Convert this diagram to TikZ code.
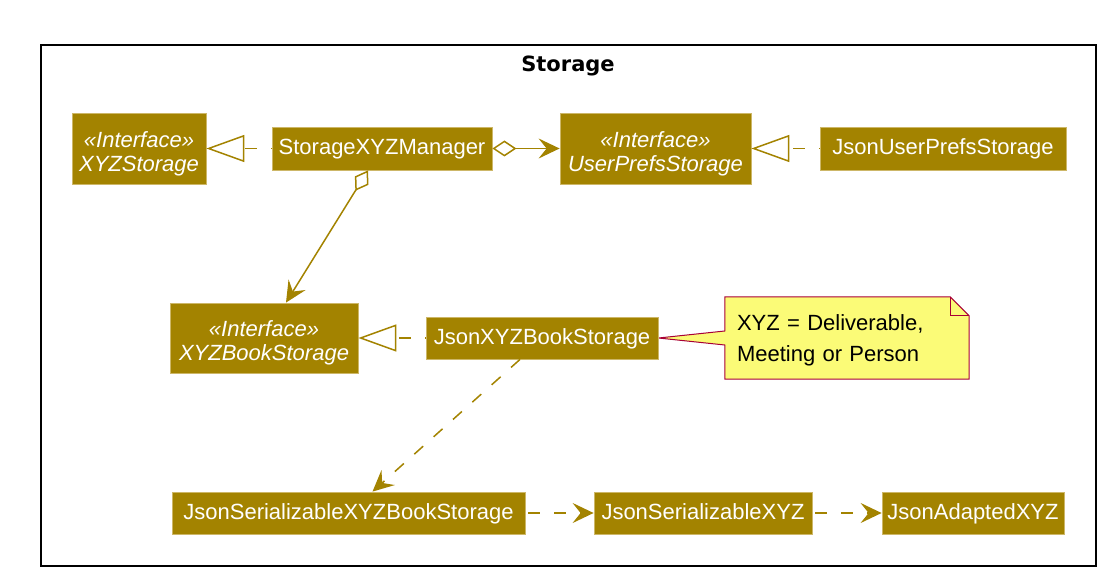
\documentclass[tikz,border=0pt]{standalone}
\usepackage{fontspec}
\setmainfont{Liberation Sans}
\newfontfamily\titlefont{DejaVu Sans}
\usepackage{tikz}
\usetikzlibrary{arrows.meta, backgrounds}

\definecolor{clsfill}{HTML}{A38300}
\definecolor{clsline}{HTML}{CDB768}
\definecolor{notefill}{HTML}{FBFB77}
\definecolor{noteline}{HTML}{A80036}

% stereotype line, with extra room above it
\newcommand{\ifacetag}{\rule{0pt}{26pt}«Interface»}

\begin{document}
\begin{tikzpicture}[x=1pt, y=-1pt,
  cls/.style={fill=clsfill, draw=clsline, line width=0.8pt, text=white, inner sep=0pt,
    minimum height=43pt, text height=16pt, text depth=4pt, font=\fontsize{22}{24}\selectfont},
  iface/.style={fill=clsfill, draw=clsline, line width=0.8pt, text=white, inner sep=0pt,
    minimum height=71pt, align=center, font=\fontsize{22}{24}\selectfont\itshape},
  realize/.style={draw=clsfill, line width=1.5pt, dash pattern=on 12pt off 14pt, dash phase=11pt,
    -{Triangle[open, length=38pt, width=27pt]}},
  depend/.style={draw=clsfill, line width=1.5pt, dash pattern=on 12pt off 14pt,
    -{Stealth[length=21pt, width=20pt, inset=8pt]}},
  aggr/.style={draw=clsfill, line width=1.5pt,
    {Diamond[open, length=24pt, width=16pt]}-{Stealth[length=21pt, width=20pt, inset=8pt]}}
]
\useasboundingbox (0,0) rectangle (1115,585);

% Package frame
\draw[line width=2pt] (41,45) rectangle (1096,566);
\node[font=\fontsize{21}{25}\selectfont\titlefont\bfseries] (title) at (568,66) {Storage};

% Top row
\node[iface, minimum width=134pt] (xyzStorage) at (139,148.5) {\ifacetag\\XYZStorage};
\node[cls, minimum width=220pt] (manager) at (382,148.5) {StorageXYZManager};
\node[iface, minimum width=191pt] (userPrefs) at (655.5,148.5) {\ifacetag\\UserPrefsStorage};
\node[cls, minimum width=246pt] (jsonUserPrefs) at (943,148.5) {JsonUserPrefsStorage};

% Middle row
\node[iface, minimum width=188pt, minimum height=70pt] (xyzBook) at (264,338) {\ifacetag\\XYZBookStorage};
\node[cls, minimum width=232pt, minimum height=42pt] (jsonXyzBook) at (542,338) {JsonXYZBookStorage};

% Note
\node[text width=220pt, inner xsep=12pt, inner ysep=0pt, minimum height=82pt, align=left,
  font=\fontsize{22}{31}\selectfont]
  (note) at (847,338) {\rule{0pt}{20pt}XYZ = Deliverable,\\Meeting or Person};
\begin{scope}[on background layer]
\filldraw[fill=notefill, draw=noteline, line width=1pt] (note.north west)
  -- ([xshift=-19pt]note.north east) -- ([yshift=-19pt]note.north east)
  -- (note.south east) -- (note.south west) -- ([yshift=-7pt]note.west)
  -- (jsonXyzBook.east) -- ([yshift=7pt]note.west) -- cycle;
\draw[noteline, line width=1pt] ([xshift=-19pt]note.north east)
  -- ([xshift=-19pt,yshift=-19pt]note.north east) -- ([yshift=-19pt]note.north east);
\end{scope}

% Bottom row
\node[cls, minimum width=353pt, minimum height=42pt] (serialBook) at (348.5,513) {JsonSerializableXYZBookStorage};
\node[cls, minimum width=218pt, minimum height=42pt] (serialXyz) at (703,513) {JsonSerializableXYZ};
\node[cls, minimum width=182pt, minimum height=42pt] (adapted) at (973,513) {JsonAdaptedXYZ};

% Realizations
\draw[realize] (manager.west) -- (xyzStorage.east);
\draw[realize] (jsonUserPrefs.west) -- (userPrefs.east);
\draw[realize] (jsonXyzBook.west) -- (xyzBook.east);

% Aggregations
\draw[aggr] (manager.east) -- (userPrefs.west);
\draw[aggr] ([xshift=-14pt]manager.south) -- ([xshift=22pt]xyzBook.north);

% Dependencies
\draw[depend] ([xshift=-22pt]jsonXyzBook.south) -- ([xshift=24pt]serialBook.north);
\draw[depend, dash phase=23pt] (serialBook.east) -- (serialXyz.west);
\draw[depend, dash phase=23pt] (serialXyz.east) -- (adapted.west);
\end{tikzpicture}
\end{document}
